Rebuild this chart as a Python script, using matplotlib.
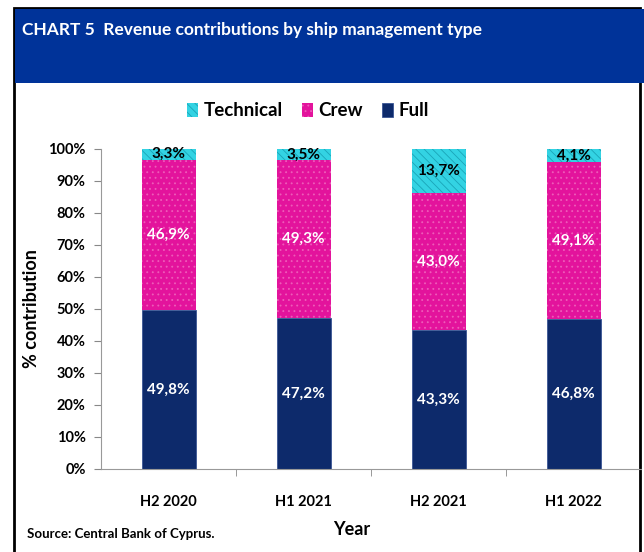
import matplotlib
matplotlib.use("Agg")
import matplotlib.pyplot as plt
import matplotlib.patches as mpatches
import numpy as np

plt.rcParams['font.family'] = ['Lato', 'DejaVu Sans']
plt.rcParams['hatch.linewidth'] = 0.6

categories = ["H2 2020", "H1 2021", "H2 2021", "H1 2022"]
full = [49.8, 47.2, 43.3, 46.8]
crew = [46.9, 49.3, 43.0, 49.1]
technical = [3.3, 3.5, 13.7, 4.1]
full_labels = ["49,8%", "47,2%", "43,3%", "46,8%"]
crew_labels = ["46,9%", "49,3%", "43,0%", "49,1%"]
tech_labels = ["3,3%", "3,5%", "13,7%", "4,1%"]
yticks = [0, 10, 20, 30, 40, 50, 60, 70, 80, 90, 100]

c_full = "#0d2a6b"
c_crew = "#e3139c"
c_tech = "#33d3e3"

fig = plt.figure(figsize=(6.44, 5.52), dpi=100)

# frame and banner
fig.patches.append(mpatches.Rectangle((14/644, -0.02), (640-14)/644, 1-8/552+0.02,
                                      transform=fig.transFigure, facecolor="white",
                                      edgecolor="black", linewidth=2, zorder=-3))
fig.patches.append(mpatches.Rectangle((15/644, 1-83/552), 1, 74/552,
                                      transform=fig.transFigure, facecolor="#003399",
                                      edgecolor="none", zorder=-2))
fig.text(22/644, 1-30/552, "CHART 5  Revenue contributions by ship management type",
         color="white", fontsize=12.5, fontweight="bold", va="center", ha="left")

ax = fig.add_axes([101/644, 1-469/552, 540/644, 320/552])
ax.set_zorder(2)
x = np.arange(len(categories))
w = 0.4
full_arr = np.array(full)
crew_arr = np.array(crew)
tech_arr = np.array(technical)

b1 = ax.bar(x, full_arr, w, color=c_full, edgecolor="#3a5594", linewidth=0.6, label="Full", zorder=2)
b2 = ax.bar(x, crew_arr, w, bottom=full_arr, color=c_crew, edgecolor="#ee5cb9",
            hatch="...", linewidth=0.0, label="Crew", zorder=2)
b3 = ax.bar(x, tech_arr, w, bottom=full_arr + crew_arr, color=c_tech, edgecolor="#1aa5b8",
            hatch="\\\\\\\\", linewidth=0.0, label="Technical", zorder=2)

for i in range(len(categories)):
    ax.text(x[i], full_arr[i] / 2, full_labels[i], ha="center", va="center",
            color="white", fontsize=11, fontweight="bold", zorder=3)
    ax.text(x[i], full_arr[i] + crew_arr[i] / 2, crew_labels[i], ha="center", va="center",
            color="white", fontsize=11, fontweight="bold", zorder=3)
    ax.text(x[i], full_arr[i] + crew_arr[i] + tech_arr[i] / 2, tech_labels[i], ha="center",
            va="center", color="black", fontsize=11, fontweight="bold", zorder=3)

ax.set_xlim(-0.5, 3.5)
ax.set_ylim(0, 100)
ax.set_yticks(yticks)
ax.set_yticklabels([f"{v}%" for v in yticks], fontsize=10.5, fontweight="bold")
ax.set_xticks(x)
ax.set_xticklabels(categories, fontsize=10.5, fontweight="bold")
ax.set_xticks([0.5, 1.5, 2.5], minor=True)
ax.tick_params(axis="x", which="major", length=0, pad=19)
ax.tick_params(axis="x", which="minor", length=5, direction="out", color="#888888")
ax.tick_params(axis="y", length=5, direction="out", color="#888888", pad=6)
for s in ["top", "right"]:
    ax.spines[s].set_visible(False)
ax.spines["left"].set_color("#999999")
ax.spines["bottom"].set_color("#999999")
ax.set_facecolor("none")

ax.set_ylabel("% contribution", fontsize=13, fontweight="bold")
ax.yaxis.set_label_coords((40 - 101) / 540, 0.5)
ax.set_xlabel("Year", fontsize=13, fontweight="bold")
ax.xaxis.set_label_coords((352 - 101) / 540, (469 - 521) / 320)

ax.legend(handles=[b3, b2, b1], labels=["Technical", "Crew", "Full"], loc="center",
          bbox_to_anchor=((308 - 101) / 540, (469 - 111) / 320), ncol=3, frameon=False,
          prop={"size": 13.5, "weight": "bold"}, handlelength=0.6, handleheight=0.7,
          handletextpad=0.3, columnspacing=1.0)

fig.text(27/644, 1-534/552, "Source: Central Bank of Cyprus.", fontsize=9.5,
         fontweight="bold", va="center", ha="left")

fig.savefig("out.png", dpi=100)
